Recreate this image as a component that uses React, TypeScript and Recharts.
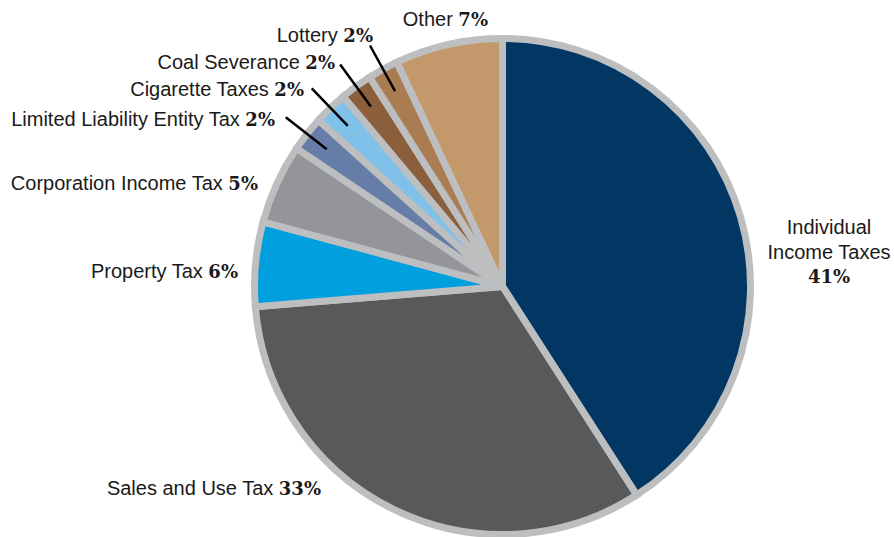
import { PieChart, Pie, Cell } from "recharts";

const categories = [
    "Individual Income Taxes",
    "Sales and Use Tax",
    "Property Tax",
    "Corporation Income Tax",
    "Limited Liability Entity Tax",
    "Cigarette Taxes",
    "Coal Severance",
    "Lottery",
    "Other",
];

// shares (%); labels show them rounded
const shares = [40.9, 32.8, 5.5, 5.2, 2.3, 2.2, 2.1, 2.0, 7.0];

const sliceColors = [
    "#023764",
    "#58595b",
    "#009fdd",
    "#939598",
    "#667da8",
    "#80c1e9",
    "#8b5e3c",
    "#a97c51",
    "#c3996b",
];

// hand placed label spots (pixels in the chart), like the original
const labelSpots = [
    { x: 829, y: 234, anchor: "middle", lines: ["Individual", "Income Taxes"], leader: false },
    { x: 321, y: 495, anchor: "end", leader: false },
    { x: 238, y: 278, anchor: "end", leader: false },
    { x: 258, y: 190, anchor: "end", leader: false },
    { x: 275, y: 126, anchor: "end", leader: true },
    { x: 304, y: 96, anchor: "end", leader: true },
    { x: 335, y: 69, anchor: "end", leader: true },
    { x: 373, y: 42, anchor: "end", leader: true },
    { x: 488, y: 26, anchor: "end", leader: false },
];

const data = categories.map((name, i) => ({ name, value: shares[i] }));

const SANS = "'Liberation Sans', Arial, sans-serif";
const SERIF = "'DejaVu Serif', serif";
const RAD = Math.PI / 180;

const renderLabel = (props: any) => {
    const { cx, cy, midAngle, index, value, name } = props;
    const spot = labelSpots[index];
    const pct = `${Math.round(value)}%`;

    let leader = null;
    if (spot.leader) {
        const x1 = cx + 223 * Math.cos(midAngle * RAD);
        const y1 = cy - 223 * Math.sin(midAngle * RAD);
        const x2 = cx + 275 * Math.cos(midAngle * RAD);
        const y2 = cy - 275 * Math.sin(midAngle * RAD);
        leader = <line x1={x1} y1={y1} x2={x2} y2={y2} stroke="#000" strokeWidth={2.5} />;
    }

    if (spot.lines) {
        return (
            <g key={`lbl-${index}`}>
                <text x={spot.x} y={spot.y} textAnchor="middle" fill="#1a1a1a" fontFamily={SANS} fontSize={20}>
                    <tspan x={spot.x} dy={0}>{spot.lines[0]}</tspan>
                    <tspan x={spot.x} dy={25}>{spot.lines[1]}</tspan>
                    <tspan x={spot.x} dy={24} fontFamily={SERIF} fontWeight="bold" fontSize={18}>{pct}</tspan>
                </text>
            </g>
        );
    }

    return (
        <g key={`lbl-${index}`}>
            {leader}
            <text x={spot.x} y={spot.y} textAnchor={spot.anchor as any} fill="#1a1a1a" fontFamily={SANS} fontSize={20}>
                <tspan>{name} </tspan>
                <tspan fontFamily={SERIF} fontWeight="bold" fontSize={18}>{pct}</tspan>
            </text>
        </g>
    );
};

const App = () => {
    return (
        <div style={{ position: "absolute", left: 0, top: 0, width: 894, height: 537, background: "#fff" }}>
            <PieChart width={894} height={537} margin={{ top: 0, right: 0, bottom: 0, left: 0 }}>
                <Pie
                    data={data}
                    dataKey="value"
                    nameKey="name"
                    cx={502.5}
                    cy={286.5}
                    outerRadius={248}
                    startAngle={90}
                    endAngle={-270}
                    stroke="#bcbec0"
                    strokeWidth={7}
                    label={renderLabel}
                    labelLine={false}
                    isAnimationActive={false}
                >
                    {data.map((d, i) => (
                        <Cell key={d.name} fill={sliceColors[i]} />
                    ))}
                </Pie>
            </PieChart>
        </div>
    );
};

export default App;
